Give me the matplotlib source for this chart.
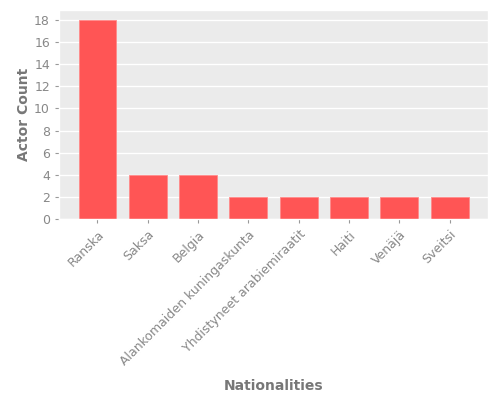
import matplotlib
matplotlib.use("Agg")
import matplotlib.pyplot as plt

nationalities = ["Ranska", "Saksa", "Belgia", "Alankomaiden kuningaskunta",
                 "Yhdistyneet arabiemiraatit", "Haiti", "Venäjä", "Sveitsi"]
actor_counts = [18, 4, 4, 2, 2, 2, 2, 2]

plt.style.use("ggplot")
fig = plt.figure(figsize=(5, 4), dpi=100)
ax = fig.add_axes([0.118, 0.4525, 0.858, 0.5225])

ax.bar(range(len(nationalities)), actor_counts, width=0.75,
       color="#ff5555", edgecolor="#ff8a8a", linewidth=0.6)
ax.set_facecolor("#ebebeb")
ax.grid(axis="x", visible=False)
ax.grid(axis="y", color="white", linewidth=1)
ax.set_axisbelow(True)

ax.set_xticks(range(len(nationalities)))
ax.set_xticklabels(nationalities, rotation=45, ha="right", rotation_mode="anchor")
ax.set_yticks(range(0, 19, 2))
ax.tick_params(colors="#999999", labelsize=9, length=3)
for lbl in ax.get_xticklabels() + ax.get_yticklabels():
    lbl.set_color("#888888")

ax.set_xlabel("Nationalities", fontsize=10, color="#777777", fontweight="bold", labelpad=8)
ax.set_ylabel("Actor Count", fontsize=10, color="#777777", fontweight="bold", labelpad=2)

fig.savefig("out.png", dpi=100)
